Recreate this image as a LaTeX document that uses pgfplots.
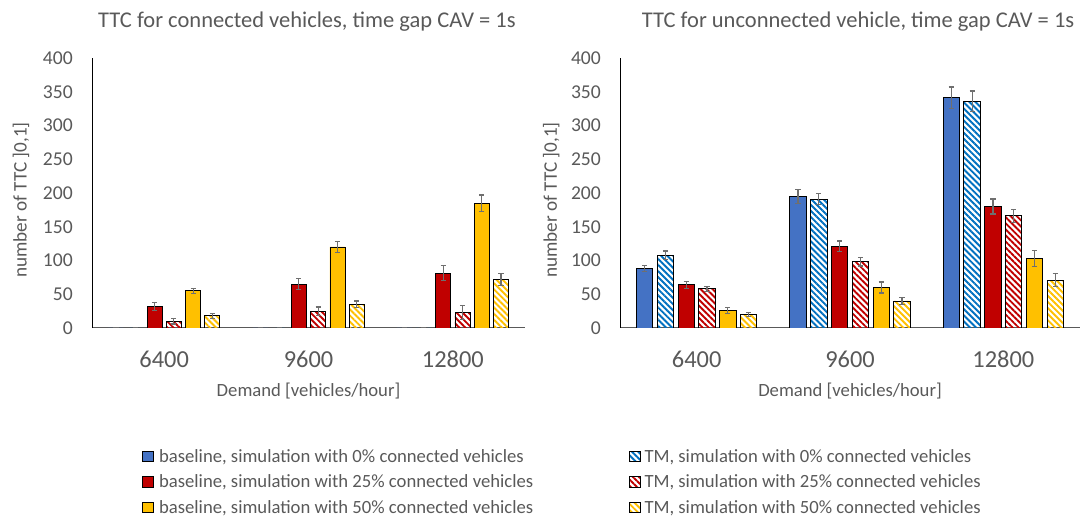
\documentclass[border=0pt]{standalone}
\usepackage{fontspec}
\setmainfont{Carlito}
\usepackage{pgfplots}
\pgfplotsset{compat=1.18}
\usetikzlibrary{patterns.meta}
\definecolor{cblue}{HTML}{4472C4}
\definecolor{cred}{HTML}{C00000}
\definecolor{cyel}{HTML}{FFC000}
\definecolor{hblue}{HTML}{0070C0}
\definecolor{txt}{HTML}{595959}
\definecolor{errc}{HTML}{6F6F6F}

\pgfplotsset{
  ttc/.style={
    scale only axis, height=270pt,
    ymin=0, ymax=400, xmin=0.5, xmax=3.5,
    ytick={0,50,...,400}, xtick={1,2,3}, xticklabels={6400,9600,12800},
    axis x line*=bottom, axis y line*=left,
    axis line style={-},
    x axis line style={black!65, line width=1pt},
    y axis line style={black, line width=0.9pt},
    major tick length=0pt,
    tick label style={text=txt},
    /pgf/number format/assume math mode=true,
    /pgf/number format/1000 sep={},
    yticklabel style={font=\fontsize{19.6}{22}\selectfont, inner sep=0pt, anchor=east, xshift=-19pt},
    xticklabel style={font=\fontsize{24.4}{27}\selectfont, inner sep=0pt, anchor=north, yshift=-22.7pt},
    xlabel style={font=\fontsize{18.67}{22}\selectfont, text=txt},
    ylabel style={font=\fontsize{19.2}{22}\selectfont, text=txt},
    xlabel={Demand [vehicles/hour]},
    ylabel={number of TTC ]0,1]},
    every axis plot/.append style={draw=black, line width=0.9pt,
      error bars/y dir=both, error bars/y explicit,
      error bars/error bar style={errc, line width=1.2pt},
      error bars/error mark options={errc, rotate=90, mark size=2.6pt, line width=1.2pt}},
    legend cell align=left,
  },
  lgd/.style={
    legend style={anchor=north west, draw=none, fill=none, inner sep=0pt, outer sep=0pt,
      font=\fontsize{18.67}{22}\selectfont, text=txt, row sep=5.5pt,
      nodes={inner xsep=0pt, inner ysep=1.5pt, anchor=base west}},
  },
  sq/.style={legend image code/.code={\draw[##1, line width=0.8pt] (0pt,0.6pt) rectangle (10.4pt,11pt);}},
  sb0/.style={fill=cblue, sq},
  st0/.style={pattern={Lines[angle=-45,distance=4.3pt,line width=1.9pt]}, pattern color=hblue, sq},
  sb25/.style={fill=cred, sq},
  st25/.style={pattern={Lines[angle=-45,distance=4.3pt,line width=1.9pt]}, pattern color=cred, sq},
  sb50/.style={fill=cyel, sq},
  st50/.style={pattern={Lines[angle=-45,distance=4.3pt,line width=1.9pt]}, pattern color=cyel, sq},
}

\begin{document}
\begin{tikzpicture}
\useasboundingbox (0,0) rectangle (1083pt,519pt);
\node[anchor=base west, inner sep=0pt, text=txt, font=\fontsize{22.5}{26}\selectfont] at (98pt,491.3pt) {TTC for connected vehicles, time gap CAV = 1s};
\node[anchor=base west, inner sep=0pt, text=txt, font=\fontsize{22.5}{26}\selectfont] at (641.7pt,491.3pt) {TTC for unconnected vehicle, time gap CAV = 1s};

\begin{axis}[ttc, lgd, width=433pt, at={(92pt,191pt)}, anchor=south west,
  ybar=4.3pt, bar width=15pt,
  xlabel style={at={(axis description cs:0.5,-0.2544)}, anchor=base},
  ylabel style={at={(axis description cs:-0.151,0.474)}, anchor=base, rotate=0},
  legend style={at={(axis description cs:0.1162,-0.4348)}, column sep=5.6pt},
]
\addplot[sb0] coordinates {(1,0) +- (0,0) (2,0) +- (0,0) (3,0) +- (0,0)};
\addplot[st0] coordinates {(1,0) +- (0,0) (2,0) +- (0,0) (3,0) +- (0,0)};
\addplot[sb25] coordinates {(1,32) +- (0,6) (2,65) +- (0,8) (3,81) +- (0,11)};
\addplot[st25] coordinates {(1,10) +- (0,4) (2,25) +- (0,6) (3,23) +- (0,10)};
\addplot[sb50] coordinates {(1,55) +- (0,4) (2,120) +- (0,8) (3,185) +- (0,12)};
\addplot[st50] coordinates {(1,18) +- (0,4) (2,35) +- (0,5) (3,72) +- (0,9)};
\legend{{\strut baseline, simulation with 0\% connected vehicles},,{\strut baseline, simulation with 25\% connected vehicles},,{\strut baseline, simulation with 50\% connected vehicles},}
\end{axis}

\begin{axis}[ttc, lgd, width=460pt, at={(620pt,191pt)}, anchor=south west,
  ybar=4.4pt, bar width=16.4pt,
  xlabel style={at={(axis description cs:0.5,-0.2544)}, anchor=base},
  ylabel style={at={(axis description cs:-0.137,0.474)}, anchor=base, rotate=0},
  legend style={at={(axis description cs:0.0202,-0.4348)}, column sep=4pt},
]
\addplot[sb0] coordinates {(1,88) +- (0,4.5) (2,195) +- (0,10) (3,341) +- (0,16)};
\addplot[st0] coordinates {(1,108) +- (0,6) (2,191) +- (0,8) (3,336) +- (0,15)};
\addplot[sb25] coordinates {(1,64) +- (0,5) (2,121) +- (0,8) (3,180) +- (0,11)};
\addplot[st25] coordinates {(1,58) +- (0,4) (2,98) +- (0,6) (3,166) +- (0,10)};
\addplot[sb50] coordinates {(1,26) +- (0,4) (2,60) +- (0,8) (3,103) +- (0,12)};
\addplot[st50] coordinates {(1,20) +- (0,3.5) (2,40) +- (0,5) (3,71) +- (0,10)};
\legend{,{\strut TM, simulation with 0\% connected vehicles},,{\strut TM, simulation with 25\% connected vehicles},,{\strut TM, simulation with 50\% connected vehicles}}
\end{axis}
\end{tikzpicture}
\end{document}
